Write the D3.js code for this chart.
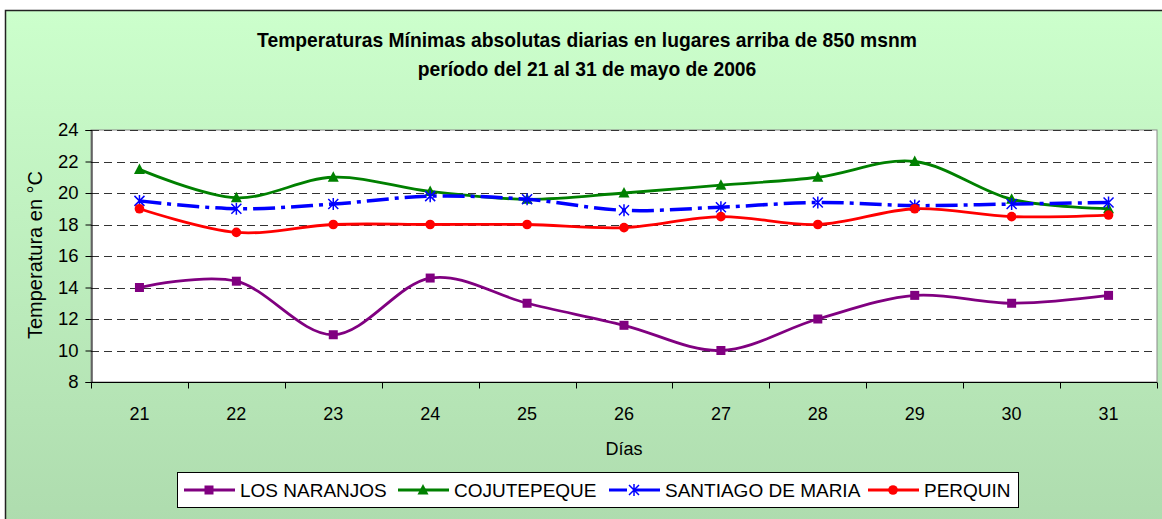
<!DOCTYPE html>
<html>
<head>
<meta charset="utf-8">
<script src="https://cdn.jsdelivr.net/npm/d3@7"></script>
<style>
  body { margin: 0; background: #fff; }
  svg { display: block; font-family: Arial, "Liberation Sans", sans-serif; }
</style>
</head>
<body>
<div id="chart"></div>
<script>
// data
var days = ["21", "22", "23", "24", "25", "26", "27", "28", "29", "30", "31"];
var yTicks = [8, 10, 12, 14, 16, 18, 20, 22, 24];
var losNaranjos = [14.0, 14.4, 11.0, 14.6, 13.0, 11.6, 10.0, 12.0, 13.5, 13.0, 13.5];
var cojutepeque = [21.5, 19.7, 21.0, 20.1, 19.6, 20.0, 20.5, 21.0, 22.0, 19.6, 19.0];
var santiagoDeMaria = [19.5, 19.0, 19.3, 19.8, 19.6, 18.9, 19.1, 19.4, 19.2, 19.3, 19.4];
var perquin = [19.0, 17.5, 18.0, 18.0, 18.0, 17.8, 18.5, 18.0, 19.0, 18.5, 18.6];
var seriesNames = ["LOS NARANJOS", "COJUTEPEQUE", "SANTIAGO DE MARIA", "PERQUIN"];

var series = [
  {name: seriesNames[0], values: losNaranjos, color: "#800080", marker: "square", dash: null},
  {name: seriesNames[1], values: cojutepeque, color: "#008000", marker: "triangle", dash: null},
  {name: seriesNames[2], values: santiagoDeMaria, color: "#0000ff", marker: "star", dash: "22,6,4,6"},
  {name: seriesNames[3], values: perquin, color: "#ff0000", marker: "circle", dash: null}
];

var width = 1162, height = 519;
var plot = {left: 91, top: 130, right: 1157, bottom: 382};

var svg = d3.select("#chart").append("svg")
  .attr("width", width)
  .attr("height", height);

var grad = svg.append("defs").append("linearGradient")
  .attr("id", "bg")
  .attr("x1", 0).attr("y1", 0).attr("x2", 0).attr("y2", 1);
grad.append("stop").attr("offset", "0%").attr("stop-color", "#ccffcc");
grad.append("stop").attr("offset", "100%").attr("stop-color", "#a9d6a9");

svg.append("rect")
  .attr("x", 5.5).attr("y", 10.5)
  .attr("width", 1200).attr("height", 600)
  .attr("fill", "url(#bg)")
  .attr("stroke", "#222")
  .attr("stroke-width", 1.5);

// title
svg.append("text").selectAll("tspan")
  .data(["Temperaturas Mínimas absolutas diarias en lugares arriba de 850 msnm",
         "período del 21 al 31 de mayo de 2006"])
  .enter().append("tspan")
  .attr("x", 587)
  .attr("y", function(d, i) { return 47 + i * 29; })
  .attr("text-anchor", "middle")
  .style("font-size", "19.3px")
  .style("font-weight", "700")
  .text(function(d) { return d; });

var xScale = d3.scaleBand()
  .domain(days)
  .range([plot.left, plot.right]);

var yScale = d3.scaleLinear()
  .domain([8, 24])
  .range([plot.bottom, plot.top]);

svg.append("rect")
  .attr("x", plot.left).attr("y", plot.top)
  .attr("width", plot.right - plot.left)
  .attr("height", plot.bottom - plot.top)
  .attr("fill", "#fff")
  .attr("stroke", "#888")
  .attr("stroke-width", 1);

// grid lines
svg.append("g").selectAll("line")
  .data(yTicks.filter(function(d) { return d > 8; }))
  .enter().append("line")
  .attr("x1", plot.left).attr("x2", plot.right)
  .attr("y1", function(d) { return Math.round(yScale(d)) + 0.5; })
  .attr("y2", function(d) { return Math.round(yScale(d)) + 0.5; })
  .attr("stroke", "#333")
  .attr("stroke-width", 1)
  .attr("stroke-dasharray", "8,5");

// y axis
var yAxis = svg.append("g")
  .attr("transform", "translate(" + (plot.left + 0.5) + ",0)")
  .call(d3.axisLeft(yScale).tickValues(yTicks).tickSize(6).tickPadding(7));
yAxis.select(".domain").attr("stroke", "#000");
yAxis.selectAll(".tick line").attr("stroke", "#000");
yAxis.selectAll("text")
  .attr("fill", "#000")
  .style("font-size", "18.5px")
  .style("font-family", "Arial, 'Liberation Sans', sans-serif");

// x axis, ticks sit between the categories
var xAxis = svg.append("g")
  .attr("transform", "translate(0," + (plot.bottom + 0.5) + ")");
xAxis.append("line")
  .attr("x1", plot.left).attr("x2", plot.right)
  .attr("stroke", "#000");
xAxis.selectAll("line.tk")
  .data(days.concat(["end"]))
  .enter().append("line")
  .attr("class", "tk")
  .attr("x1", function(d, i) { return Math.round(plot.left + i * xScale.bandwidth()) + 0.5; })
  .attr("x2", function(d, i) { return Math.round(plot.left + i * xScale.bandwidth()) + 0.5; })
  .attr("y1", 0).attr("y2", 6)
  .attr("stroke", "#000");
xAxis.selectAll("text")
  .data(days)
  .enter().append("text")
  .attr("x", function(d) { return xScale(d) + xScale.bandwidth() / 2; })
  .attr("y", 37)
  .attr("text-anchor", "middle")
  .style("font-size", "18px")
  .text(function(d) { return d; });

svg.append("text")
  .attr("x", 624).attr("y", 455)
  .attr("text-anchor", "middle")
  .style("font-size", "18px")
  .text("Días");

svg.append("text")
  .attr("transform", "translate(42,255) rotate(-90)")
  .attr("text-anchor", "middle")
  .style("font-size", "20px")
  .text("Temperatura en °C");

function drawMarker(g, type, color) {
  if (type == "square") {
    g.append("rect").attr("x", -4.5).attr("y", -4.5).attr("width", 9).attr("height", 9).attr("fill", color);
  } else if (type == "triangle") {
    g.append("path").attr("d", "M0,-6L5.5,4.5L-5.5,4.5Z").attr("fill", color);
  } else if (type == "circle") {
    g.append("circle").attr("r", 4.8).attr("fill", color);
  } else {
    g.append("path")
      .attr("d", "M-5,-5L5,5M-5,5L5,-5M0,-6L0,6")
      .attr("stroke", color)
      .attr("stroke-width", 1.5)
      .attr("fill", "none");
  }
}

var line = d3.line()
  .x(function(d, i) { return xScale(days[i]) + xScale.bandwidth() / 2; })
  .y(function(d) { return yScale(d); })
  .curve(d3.curveCardinal);

var sel = svg.selectAll("g.series")
  .data(series)
  .enter().append("g")
  .classed("series", true);

sel.append("path")
  .attr("d", function(d) { return line(d.values); })
  .attr("fill", "none")
  .attr("stroke", function(d) { return d.color; })
  .attr("stroke-width", function(d) { return d.dash ? 3.5 : 2.8; })
  .attr("stroke-dasharray", function(d) { return d.dash; });

sel.each(function(s) {
  d3.select(this).selectAll("g.pt")
    .data(s.values)
    .enter().append("g")
    .attr("class", "pt")
    .attr("transform", function(d, i) {
      return "translate(" + (xScale(days[i]) + xScale.bandwidth() / 2) + "," + yScale(d) + ")";
    })
    .each(function() { drawMarker(d3.select(this), s.marker, s.color); });
});

// legend
var legendX = [184, 398, 609, 868];
var legend = svg.append("g");
legend.append("rect")
  .attr("x", 177.5).attr("y", 472.5)
  .attr("width", 841).attr("height", 35)
  .attr("fill", "#fff")
  .attr("stroke", "#000");

var item = legend.selectAll("g.item")
  .data(series)
  .enter().append("g")
  .attr("class", "item")
  .attr("transform", function(d, i) { return "translate(" + legendX[i] + ",490)"; });
item.append("line")
  .attr("x1", 0).attr("x2", 51)
  .attr("stroke", function(d) { return d.color; })
  .attr("stroke-width", 3)
  .attr("stroke-dasharray", function(d) { return d.dash ? "18,6,10,0" : null; });
item.each(function(d) {
  var m = d3.select(this).append("g").attr("transform", "translate(25,0)");
  drawMarker(m, d.marker, d.color);
});
item.append("text")
  .attr("x", 56).attr("y", 7)
  .style("font-size", "19px")
  .text(function(d) { return d.name; });
</script>
</body>
</html>
